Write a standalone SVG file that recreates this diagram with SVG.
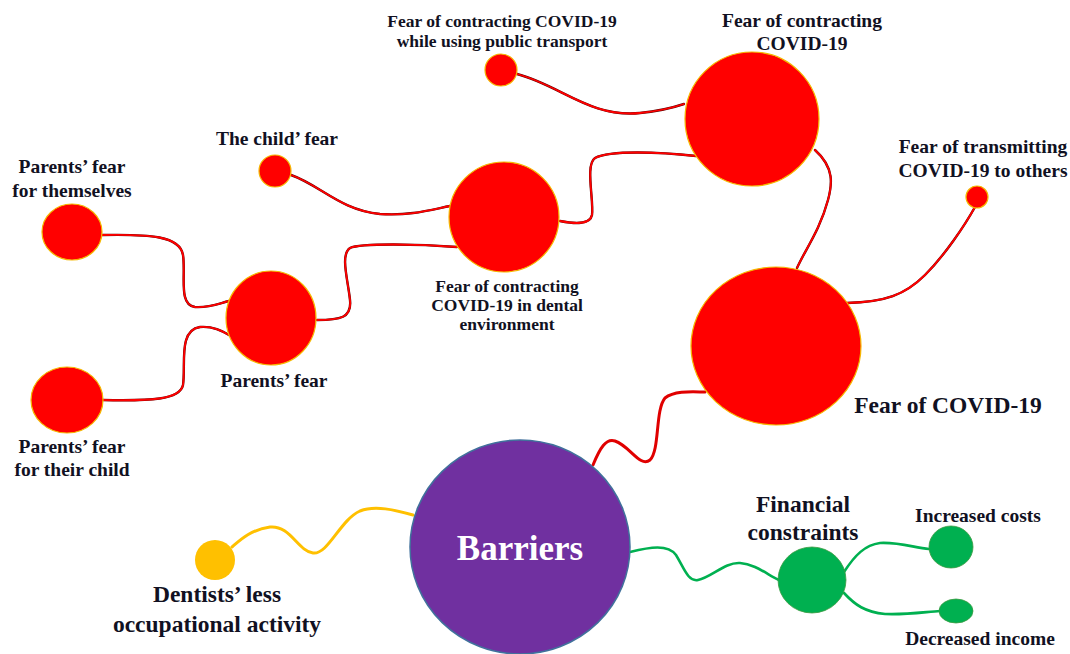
<svg xmlns="http://www.w3.org/2000/svg" width="1070" height="654" viewBox="0 0 1070 654">
<style>
.bg{fill:#ffffff}
.rn{fill:#FF0000;stroke:#F5B800;stroke-width:1.2}
.gn{fill:#00B050;stroke:#3a9a40;stroke-width:0.8}
.yn{fill:#FFC000}
.pn{fill:#7030A0;stroke:#41719C;stroke-width:1.5}
.rl{fill:none;stroke:#5a0000;stroke-width:2.4;stroke-linecap:round}
.rl2{fill:none;stroke:#FF0000;stroke-width:1.8;stroke-linecap:round}
.yl{fill:none;stroke:#FFC000;stroke-width:3;stroke-linecap:round}
.gl{fill:none;stroke:#00B050;stroke-width:2.6;stroke-linecap:round}
.t{font-family:"Liberation Serif","Times New Roman",serif;font-weight:bold;fill:#111122;text-anchor:middle}
.s17{font-size:17.5px}
.s19{font-size:19.5px}
.s23{font-size:23.5px}
</style>
<defs>
  <path id="p1" d="M517,74 C560,85 590,118 640,113 C660,111 675,107 684,104"/>
  <path id="p2" d="M560,221 C575,224 590,225 592,215 C594,200 585,165 595,158 C610,150 660,152 696,156"/>
  <path id="p3" d="M291,175 C320,185 340,210 380,214 C410,216 430,210 450,206"/>
  <path id="p4" d="M317,320 C340,320 352,318 350,300 C348,280 340,255 350,248 C360,243 420,244 457,247"/>
  <path id="p5" d="M102,235 C150,234 180,236 183,255 C186,275 178,305 195,307 C210,308 220,303 229,301"/>
  <path id="p6" d="M103,400 C150,401 180,400 183,385 C186,365 178,330 200,327 C213,326 222,331 229,335"/>
  <path id="p7" d="M815,150 C835,168 832,185 828,200 C820,230 805,250 797,268"/>
  <path id="p8" d="M847,303 C885,302 905,295 925,275 C945,255 965,225 975,207"/>
</defs>
<rect class="bg" width="1070" height="654"/>
<g id="connectors">
  <g id="red-lines-shadow">
    <use href="#p1" class="rl"/><use href="#p2" class="rl"/><use href="#p3" class="rl"/><use href="#p4" class="rl"/>
    <use href="#p5" class="rl"/><use href="#p6" class="rl"/><use href="#p7" class="rl"/><use href="#p8" class="rl"/>
  </g>
  <g id="red-lines">
    <use href="#p1" class="rl2"/><use href="#p2" class="rl2"/><use href="#p3" class="rl2"/><use href="#p4" class="rl2"/>
    <use href="#p5" class="rl2"/><use href="#p6" class="rl2"/><use href="#p7" class="rl2"/><use href="#p8" class="rl2"/>
  </g>
  <path id="c9" fill="none" stroke="#E00000" stroke-width="3" stroke-linecap="round" d="M593,465 C600,448 606,438 615,441 C630,446 640,468 650,460 C660,450 655,410 665,398 C675,390 695,392 705,392"/>
  <path id="c10" class="yl" d="M413,515 C395,510 375,505 360,511 C340,520 328,555 313,553 C298,551 290,525 270,527 C250,530 240,540 232,547"/>
  <path id="c11" class="gl" d="M630,552 C650,547 668,544 676,555 C684,568 688,582 698,580 C712,577 725,562 740,563 C755,564 768,575 779,580"/>
  <path id="c12" class="gl" stroke-width="2" d="M844,572 C855,555 865,545 880,543 C900,542 915,548 929,549"/>
  <path id="c13" class="gl" stroke-width="2" d="M844,593 C855,605 865,612 885,614 C905,615 925,612 940,611"/>
</g>
<g id="n-transport"><circle class="rn" cx="501" cy="70" r="16"/>
  <text class="t s17" x="502" y="27">Fear of contracting COVID-19</text>
  <text class="t s17" x="502" y="47">while using public transport</text></g>
<g id="n-contracting"><circle class="rn" cx="752" cy="119" r="67"/>
  <text class="t s19" x="802" y="27">Fear of contracting</text>
  <text class="t s19" x="802" y="50">COVID-19</text></g>
<g id="n-transmitting"><circle class="rn" cx="977" cy="197" r="11"/>
  <text class="t s19" x="983" y="153">Fear of transmitting</text>
  <text class="t s19" x="983" y="177">COVID-19 to others</text></g>
<g id="n-fear"><ellipse class="rn" cx="776" cy="346" rx="85" ry="79"/>
  <text class="t s23" x="948" y="413">Fear of COVID-19</text></g>
<g id="n-dental"><circle class="rn" cx="504" cy="217" r="55"/>
  <text class="t s17" x="507" y="292">Fear of contracting</text>
  <text class="t s17" x="507" y="311">COVID-19 in dental</text>
  <text class="t s17" x="507" y="330">environment</text></g>
<g id="n-child"><circle class="rn" cx="275" cy="171" r="16"/>
  <text class="t s19" x="277" y="145">The child’ fear</text></g>
<g id="n-themselves"><ellipse class="rn" cx="72" cy="232" rx="30" ry="28"/>
  <text class="t s19" x="72" y="173">Parents’ fear</text>
  <text class="t s19" x="72" y="197">for themselves</text></g>
<g id="n-parents"><ellipse class="rn" cx="271" cy="318" rx="45" ry="47"/>
  <text class="t s19" x="274" y="387">Parents’ fear</text></g>
<g id="n-theirchild"><ellipse class="rn" cx="67" cy="400" rx="36" ry="33"/>
  <text class="t s19" x="72" y="453">Parents’ fear</text>
  <text class="t s19" x="72" y="476">for their child</text></g>
<g id="n-barriers"><ellipse class="pn" cx="520" cy="547" rx="110" ry="107"/>
  <text class="t" x="520" y="560" font-size="35" style="fill:#ffffff">Barriers</text></g>
<g id="n-dentists"><circle class="yn" cx="215" cy="560" r="20"/>
  <text class="t s23" x="217" y="602">Dentists’ less</text>
  <text class="t s23" x="217" y="632">occupational activity</text></g>
<g id="n-financial"><ellipse class="gn" cx="812" cy="580" rx="34" ry="33"/>
  <text class="t s23" x="803" y="512">Financial</text>
  <text class="t s23" x="803" y="540">constraints</text></g>
<g id="n-costs"><ellipse class="gn" cx="951" cy="547" rx="22" ry="21"/>
  <text class="t s19" x="978" y="522">Increased costs</text></g>
<g id="n-income"><ellipse class="gn" cx="956" cy="611" rx="17" ry="12"/>
  <text class="t s19" x="980" y="645">Decreased income</text></g>
</svg>
